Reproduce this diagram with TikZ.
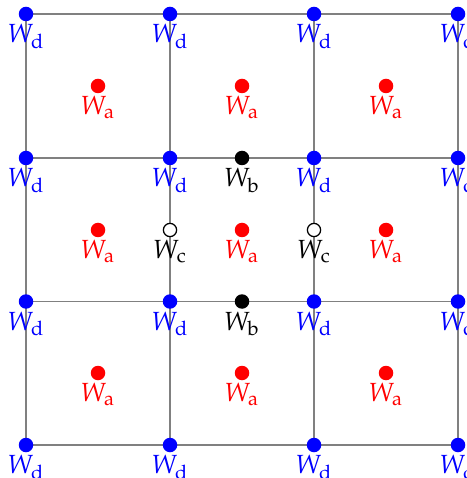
\documentclass[tikz,border=0pt]{standalone}
\usepackage{mathpazo}
\begin{document}
\begin{tikzpicture}[x=0.4pt,y=-0.4pt,
  gridline/.style={draw=gray,line width=0.7pt},
  dotd/.style={circle,fill=blue,inner sep=0pt,minimum size=5.8pt},
  dota/.style={circle,fill=red,inner sep=0pt,minimum size=5.8pt},
  dotb/.style={circle,fill=black,inner sep=0pt,minimum size=5.8pt},
  dotc/.style={circle,draw=black,fill=white,line width=0.5pt,inner sep=0pt,minimum size=5.3pt},
  lab/.style={anchor=north,inner sep=0pt,yshift=-0.9pt,font=\fontsize{10.5}{12}\selectfont}]
\useasboundingbox (0,0) rectangle (466,478);
% grid
\foreach \i/\x in {1/26,2/170,3/314,4/458}{
  \coordinate (vt\i) at (\x,14);
  \coordinate (vb\i) at (\x,445);
  \draw[gridline] (vt\i) -- (vb\i);
}
\foreach \j/\y in {1/14,2/158,3/301.5,4/445}{
  \coordinate (hl\j) at (26,\y);
  \coordinate (hr\j) at (458,\y);
  \draw[gridline] (hl\j) -- (hr\j);
}
% W_d at grid vertices
\foreach \i/\x in {1/26,2/170,3/314,4/458}{
  \foreach \j/\y in {1/14,2/158,3/301.5,4/445}{
    \node[dotd] (d\i\j) at (\x,\y) {};
    \node[lab,text=blue] (ld\i\j) at (d\i\j.south) {$W_{\mathrm{d}}$};
  }
}
% W_a at cell centres
\foreach \i/\x in {1/98,2/242,3/386}{
  \foreach \j/\y in {1/86,2/230,3/373}{
    \node[dota] (a\i\j) at (\x,\y) {};
    \node[lab,text=red] (la\i\j) at (a\i\j.south) {$W_{\mathrm{a}}$};
  }
}
% W_b
\node[dotb] (b1) at (242,158) {};
\node[lab] (lb1) at (b1.south) {$W_{\mathrm{b}}$};
\node[dotb] (b2) at (242,301.5) {};
\node[lab] (lb2) at (b2.south) {$W_{\mathrm{b}}$};
% W_c
\node[dotc] (c1) at (170,230) {};
\node[lab] (lc1) at (c1.south) {$W_{\mathrm{c}}$};
\node[dotc] (c2) at (314,230) {};
\node[lab] (lc2) at (c2.south) {$W_{\mathrm{c}}$};
\end{tikzpicture}
\end{document}
